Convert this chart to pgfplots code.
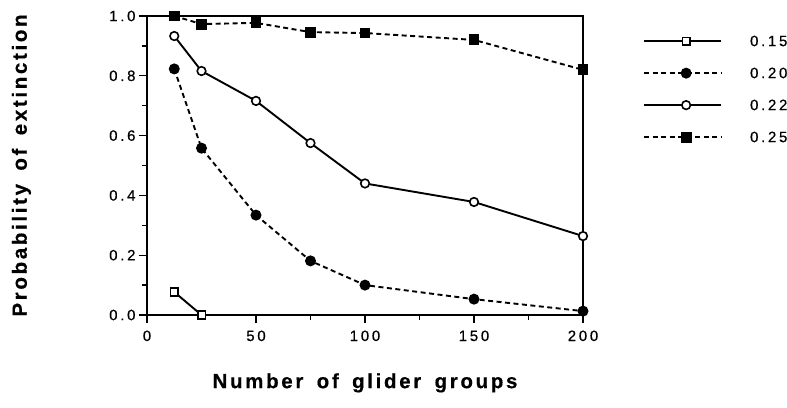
\documentclass[border=0pt]{standalone}
\usepackage{fontspec}
\setmainfont{Liberation Sans}
\newfontfamily\labelfont[LetterSpace=13,WordSpace=1.6,FakeBold=0.4]{Liberation Sans}
\newfontfamily\tickfont[LetterSpace=18,FakeBold=0.5]{Liberation Sans}
\usepackage{pgfplots}
\pgfplotsset{compat=1.18}
\begin{document}
\begin{tikzpicture}
\useasboundingbox (0pt,0pt) rectangle (787pt,407pt);
\begin{axis}[
  at={(147pt,92pt)}, anchor=south west,
  scale only axis, width=436pt, height=299pt,
  xmin=0, xmax=200, ymin=0, ymax=1,
  xtick={0,50,100,150,200},
  minor xtick={25,75,125,175},
  ytick={0,0.2,0.4,0.6,0.8,1.0},
  minor ytick={0.1,0.3,0.5,0.7,0.9},
  yticklabel style={/pgf/number format/.cd,fixed,fixed zerofill,precision=1},
  xticklabel style={yshift=-4pt},
  /pgf/number format/assume math mode=true,
  tick align=outside,
  xtick pos=bottom, ytick pos=left,
  major tick length=8pt, minor tick length=5pt,
  every tick/.style={black, line width=1.4pt},
  axis line style={line width=1.8pt},
  tick label style={font=\tickfont\fontsize{15}{17}\selectfont},
  xlabel={\labelfont\bfseries Number of glider groups},
  ylabel={\labelfont\bfseries Probability of extinction},
  label style={font=\fontsize{20.5}{22}\selectfont},
  xlabel style={at={(axis description cs:0.5,-0.227)}, anchor=center},
  ylabel style={at={(axis description cs:-0.288,0.5)}, anchor=center},
  legend style={draw=none, fill=none, at={(axis description cs:1.1376,0.945)}, anchor=north west,
    inner sep=0pt, font=\tickfont\fontsize{15}{17}\selectfont, row sep=15pt,
    nodes={inner sep=0pt, text height=13.5pt, text depth=3.5pt},
    /tikz/every odd column/.append style={column sep=28pt}},
  legend cell align=left,
  legend image code/.code={\draw[mark repeat=2,mark phase=2,#1] plot coordinates {(0pt,0pt) (42pt,0pt) (77pt,0pt)};},
  clip=false,
]
\addplot[black, line width=1.9pt, mark=square*, mark options={solid, fill=white, line width=1.6pt}, mark size=3.8pt]
  coordinates {(12.5,0.077) (25,0.0)};
\addlegendentry{0.15}
\addplot[black, line width=1.9pt, dash pattern=on 5pt off 3.5pt, mark=*, mark options={solid}, mark size=4.5pt]
  coordinates {(12.5,0.823) (25,0.558) (50,0.334) (75,0.181) (100,0.100) (150,0.053) (200,0.013)};
\addlegendentry{0.20}
\addplot[black, line width=1.9pt, mark=*, mark options={solid, fill=white, line width=1.6pt}, mark size=4.3pt]
  coordinates {(12.5,0.933) (25,0.816) (50,0.716) (75,0.575) (100,0.440) (150,0.378) (200,0.264)};
\addlegendentry{0.22}
\addplot[black, line width=1.9pt, dash pattern=on 5pt off 3.5pt, mark=square*, mark options={solid}, mark size=4.5pt]
  coordinates {(12.5,1.0) (25,0.973) (50,0.977) (75,0.946) (100,0.943) (150,0.92) (200,0.82)};
\addlegendentry{0.25}
\end{axis}
\end{tikzpicture}
\end{document}
